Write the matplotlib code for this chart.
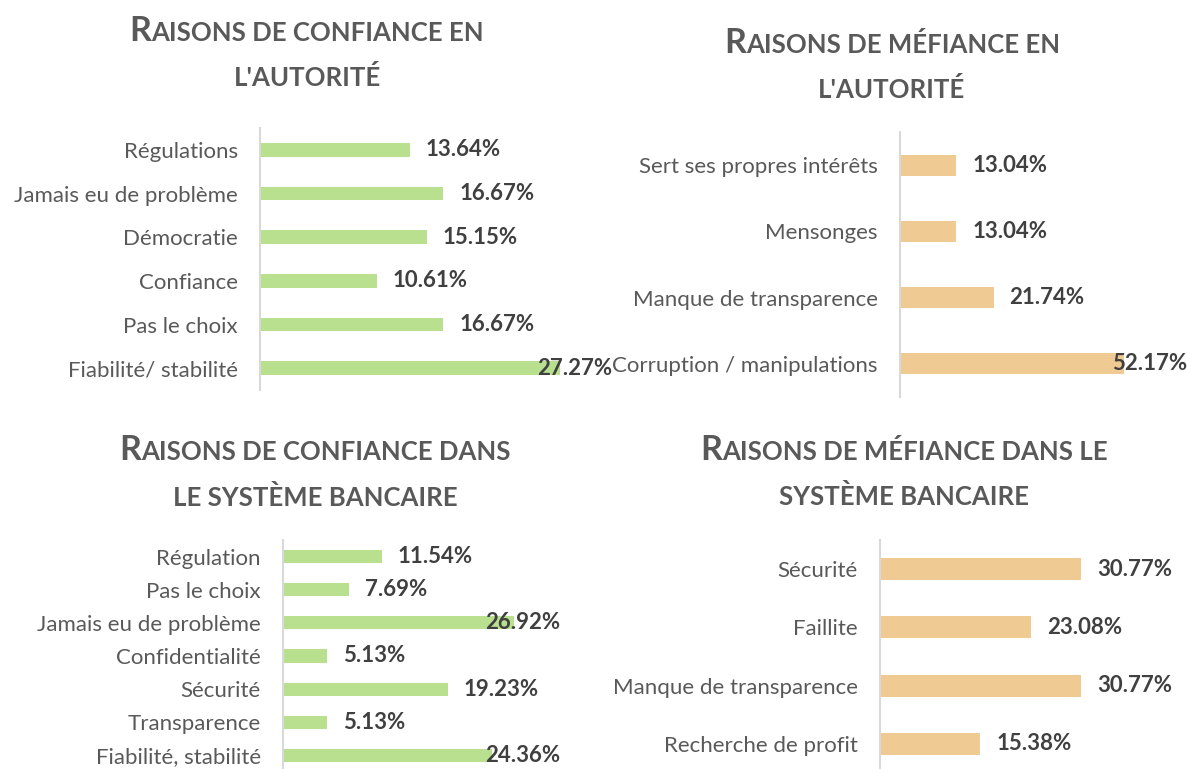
import matplotlib.pyplot as plt

plt.rcParams['font.family'] = ['Lato', 'DejaVu Sans']

# data
conf_aut_cats = ['Régulations', 'Jamais eu de problème', 'Démocratie', 'Confiance',
                 'Pas le choix', 'Fiabilité/ stabilité']
conf_aut_vals = [13.64, 16.67, 15.15, 10.61, 16.67, 27.27]

mef_aut_cats = ['Sert ses propres intérêts', 'Mensonges', 'Manque de transparence',
                'Corruption / manipulations']
mef_aut_vals = [13.04, 13.04, 21.74, 52.17]

conf_bank_cats = ['Régulation', 'Pas le choix', 'Jamais eu de problème', 'Confidentialité',
                  'Sécurité', 'Transparence', 'Fiabilité, stabilité']
conf_bank_vals = [11.54, 7.69, 26.92, 5.13, 19.23, 5.13, 24.36]

mef_bank_cats = ['Sécurité', 'Faillite', 'Manque de transparence', 'Recherche de profit']
mef_bank_vals = [30.77, 23.08, 30.77, 15.38]

GREEN = '#B9E08F'
ORANGE = '#EFCA93'
GREY = '#595959'

W, H = 1187, 769
fig = plt.figure(figsize=(W / 100, H / 100), dpi=100)
renderer = fig.canvas.get_renderer()


def add_panel(box, cats, vals, color, xmax, height):
    l, r, t, b = box
    ax = fig.add_axes([l / W, 1 - b / H, (r - l) / W, (b - t) / H])
    ys = list(range(len(cats)))
    ax.barh(ys, vals, height=height, color=color)
    ax.set_xlim(0, xmax)
    ax.set_ylim(len(cats) - 0.5, -0.5)
    ax.set_yticks(ys)
    ax.set_yticklabels(cats, color=GREY, fontsize=16)
    ax.tick_params(axis='y', length=0, pad=16)
    ax.set_xticks([])
    for s in ['top', 'right', 'bottom']:
        ax.spines[s].set_visible(False)
    ax.spines['left'].set_color('#D9D9D9')
    ax.spines['left'].set_linewidth(1.5)
    ax.patch.set_alpha(0)

    # value labels, kept inside the plot area like Excel does
    right = ax.get_window_extent(renderer).x1
    for y, v in zip(ys, vals):
        t = ax.annotate(f'{v:.2f}%', (v, y), xytext=(11.5, 0), textcoords='offset points',
                        ha='left', va='center', fontsize=16, fontweight='bold',
                        color='#404040', annotation_clip=False)
        if t.get_window_extent(renderer).x1 > right:
            t.remove()
            ax.annotate(f'{v:.2f}%', (1, y), xycoords=('axes fraction', 'data'),
                        ha='right', va='center', fontsize=16, fontweight='bold',
                        color='#404040', annotation_clip=False)
    return ax


def smallcaps_title(cx, cy, line, big=24.5, small=18.5):
    # fake small caps: capitals big, lowercase as smaller capitals
    runs = []
    for ch in line:
        size = big if ch.isupper() else small
        if runs and runs[-1][1] == size:
            runs[-1][0] += ch.upper()
        else:
            runs.append([ch.upper(), size])
    texts = []
    total = 0
    for s, size in runs:
        t = fig.text(0, 0, s, fontsize=size, fontweight='bold', color=GREY, va='baseline')
        w = t.get_window_extent(renderer).width
        texts.append((t, w))
        total += w
    x = cx - total / 2
    for t, w in texts:
        t.set_position((x / W, 1 - cy / H))
        x += w


add_panel((260, 612, 128, 390), conf_aut_cats, conf_aut_vals, GREEN, 32.0, 0.32)
add_panel((900, 1187, 132, 397), mef_aut_cats, mef_aut_vals, ORANGE, 66.7, 0.32)
add_panel((283, 560, 540, 772), conf_bank_cats, conf_bank_vals, GREEN, 32.3, 0.4)
add_panel((880, 1187, 540, 773), mef_bank_cats, mef_bank_vals, ORANGE, 47.0, 0.38)

smallcaps_title(307, 41, 'Raisons de confiance en')
smallcaps_title(307, 86, "l'autorité")
smallcaps_title(892, 53, 'Raisons de méfiance en')
smallcaps_title(892, 98, "l'autorité")
smallcaps_title(315, 460, 'Raisons de confiance dans')
smallcaps_title(315, 506, 'le système bancaire')
smallcaps_title(904, 460, 'Raisons de méfiance dans le')
smallcaps_title(904, 505, 'système bancaire')

fig.savefig('out.png', dpi=100)
